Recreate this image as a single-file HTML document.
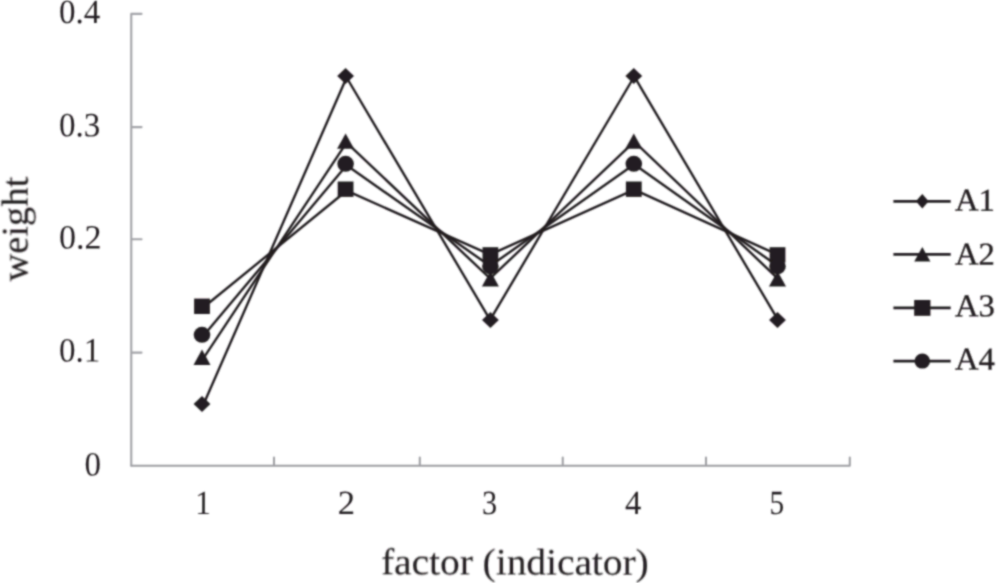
<!DOCTYPE html>
<html><head><meta charset="utf-8"><style>
html,body{margin:0;padding:0;background:#fff;}
body{width:997px;height:583px;overflow:hidden;}
svg{display:block;}
.t{font-family:"Liberation Serif",serif;fill:#231f20;text-rendering:geometricPrecision;}
.b{stroke:#231f20;stroke-width:0.35px;}
.m{stroke:#231f20;stroke-width:0.12px;}
</style></head><body>
<svg width="997" height="583" viewBox="0 0 997 583">
<defs><filter id="bl" filterUnits="userSpaceOnUse" x="0" y="0" width="997" height="583"><feConvolveMatrix order="5" kernelMatrix="0.0005 0.0050 0.0109 0.0050 0.0005 0.0050 0.0522 0.1141 0.0522 0.0050 0.0109 0.1141 0.2491 0.1141 0.0109 0.0050 0.0522 0.1141 0.0522 0.0050 0.0005 0.0050 0.0109 0.0050 0.0005" edgeMode="none"/></filter></defs>
<g filter="url(#bl)">
<path d="M131.25 465.5V13.8 M131.25 352.60H141.55 M131.25 239.25H141.55 M131.25 127.10H141.55 M131.25 13.85H141.55" fill="none" stroke="#a2a3a7" stroke-width="2.1" stroke-linejoin="round" stroke-linecap="round"/>
<path d="M131.25 465.8H849.8 M274.00 465.8V457.5 M419.80 465.8V457.5 M562.75 465.8V457.5 M706.00 465.8V457.5 M849.80 465.8V457.5" fill="none" stroke="#9c9da1" stroke-width="2.0" stroke-linejoin="round" stroke-linecap="round"/>
<polyline points="203.00,405.60 346.60,77.50 490.10,319.80 634.30,76.50 778.00,319.90" fill="none" stroke="#231f20" stroke-width="2.4" stroke-linejoin="round"/>
<polyline points="203.00,358.80 346.60,142.60 490.10,278.50 634.30,141.60 778.00,278.80" fill="none" stroke="#231f20" stroke-width="2.4" stroke-linejoin="round"/>
<polyline points="203.00,307.80 346.60,190.70 490.10,254.60 634.30,189.70 778.00,254.90" fill="none" stroke="#231f20" stroke-width="2.4" stroke-linejoin="round"/>
<polyline points="203.00,336.30 346.60,165.30 490.10,266.00 634.30,164.30 778.00,266.30" fill="none" stroke="#231f20" stroke-width="2.4" stroke-linejoin="round"/>
<g fill="#231f20"><path d="M202.00 396.10L210.40 404.10L202.00 412.10L193.60 404.10Z"/><path d="M345.60 68.00L354.00 76.00L345.60 84.00L337.20 76.00Z"/><path d="M490.40 312.10L498.80 320.10L490.40 328.10L482.00 320.10Z"/><path d="M633.80 68.00L642.20 76.00L633.80 84.00L625.40 76.00Z"/><path d="M777.50 311.90L785.90 319.90L777.50 327.90L769.10 319.90Z"/><path d="M202.00 349.60L210.50 365.00L193.50 365.00Z"/><path d="M345.60 133.40L354.10 148.80L337.10 148.80Z"/><path d="M490.40 271.10L498.90 286.50L481.90 286.50Z"/><path d="M633.80 133.40L642.30 148.80L625.30 148.80Z"/><path d="M777.50 271.10L786.00 286.50L769.00 286.50Z"/><rect x="194.10" y="298.60" width="15.80" height="15.40"/><rect x="337.70" y="181.50" width="15.80" height="15.40"/><rect x="482.50" y="247.20" width="15.80" height="15.40"/><rect x="625.90" y="181.50" width="15.80" height="15.40"/><rect x="769.60" y="247.20" width="15.80" height="15.40"/><ellipse cx="202.00" cy="334.80" rx="8.30" ry="8.00"/><ellipse cx="345.60" cy="163.80" rx="8.30" ry="8.00"/><ellipse cx="490.40" cy="266.30" rx="8.30" ry="8.00"/><ellipse cx="633.80" cy="163.80" rx="8.30" ry="8.00"/><ellipse cx="777.50" cy="266.30" rx="8.30" ry="8.00"/></g>
<path d="M893.4 201.3H950.7" stroke="#231f20" stroke-width="2.7" fill="none"/><g fill="#231f20"><path d="M922.3 194.00L928.7 201.30L922.3 208.60L915.9 201.30Z"/></g><text transform="translate(955.0 210.6) scale(0.99 0.96) rotate(0.1)" class="t b" font-size="33">A1</text><path d="M893.4 254.3H950.7" stroke="#231f20" stroke-width="2.7" fill="none"/><g fill="#231f20"><path d="M922.30 246.99L930.38 261.62L914.22 261.62Z"/></g><text transform="translate(955.0 264.5) scale(0.99 0.96) rotate(0.1)" class="t b" font-size="33">A2</text><path d="M893.4 307.9H950.7" stroke="#231f20" stroke-width="2.7" fill="none"/><g fill="#231f20"><rect x="914.16" y="299.97" width="16.27" height="15.86"/></g><text transform="translate(955.0 316.3) scale(0.99 0.96) rotate(0.1)" class="t b" font-size="33">A3</text><path d="M893.4 361.1H950.7" stroke="#231f20" stroke-width="2.7" fill="none"/><g fill="#231f20"><ellipse cx="922.30" cy="361.10" rx="7.80" ry="7.52"/></g><text transform="translate(955.0 369.4) scale(0.99 0.96) rotate(0.1)" class="t b" font-size="33">A4</text>
<text transform="translate(101.1 475.60) scale(0.97 1.0) rotate(0.1)" text-anchor="end" class="t" font-size="34">0</text><text transform="translate(100.3 361.60) scale(0.97 1.0) rotate(0.1)" text-anchor="end" class="t" font-size="34">0.1</text><text transform="translate(101.5 248.45) scale(1.0 1.0) rotate(0.1)" text-anchor="end" class="t" font-size="34">0.2</text><text transform="translate(100.3 136.30) scale(0.97 1.0) rotate(0.1)" text-anchor="end" class="t" font-size="34">0.3</text><text transform="translate(100.3 23.05) scale(0.97 1.0) rotate(0.1)" text-anchor="end" class="t" font-size="34">0.4</text><text transform="translate(203.05 513.9) scale(0.92 0.995) rotate(0.1)" text-anchor="middle" class="t" font-size="34">1</text><text transform="translate(346.50 513.9) scale(1.02 0.995) rotate(0.1)" text-anchor="middle" class="t" font-size="34">2</text><text transform="translate(489.45 513.9) scale(0.89 0.995) rotate(0.1)" text-anchor="middle" class="t" font-size="34">3</text><text transform="translate(633.05 513.9) scale(0.96 0.995) rotate(0.1)" text-anchor="middle" class="t" font-size="34">4</text><text transform="translate(776.80 513.9) scale(0.86 0.995) rotate(0.1)" text-anchor="middle" class="t" font-size="34">5</text>
<text transform="translate(381.09 573.9) scale(1.009 0.96) rotate(0.1)" class="t m" font-size="39">factor (indicator)</text>
<text transform="translate(27.2 281.6) rotate(-90) scale(0.988 0.964) rotate(0.1)" class="t m" font-size="39">weight</text>
</g>
</svg>
</body></html>
